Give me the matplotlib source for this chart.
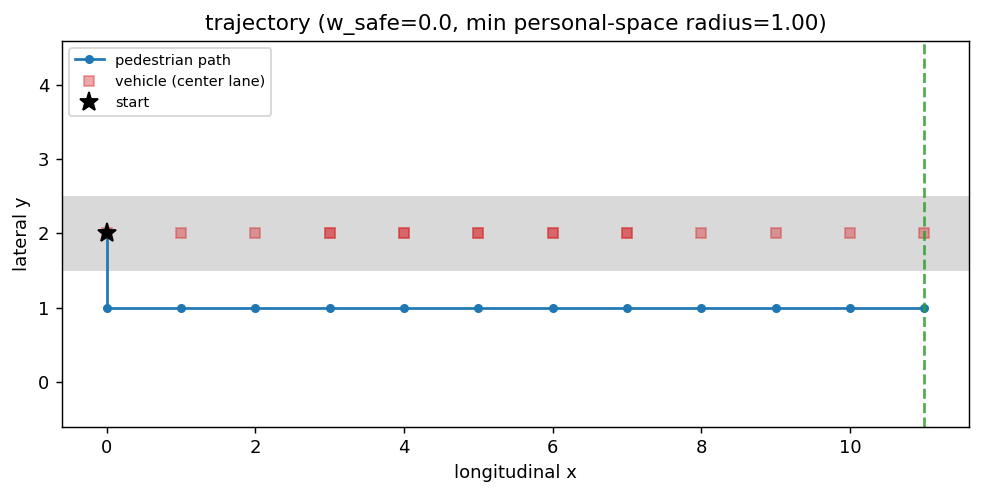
import matplotlib
matplotlib.use('Agg')
import matplotlib.pyplot as plt

# pedestrian path (x, y)
ped_x = [0, 0, 1, 2, 3, 4, 5, 6, 7, 8, 9, 10, 11]
ped_y = [2, 1, 1, 1, 1, 1, 1, 1, 1, 1, 1, 1, 1]

# vehicle positions in the center lane (some steps repeat)
veh_x = [0, 1, 2, 3, 3, 4, 4, 5, 5, 6, 6, 7, 7, 8, 9, 10, 11]
veh_y = [2] * len(veh_x)

start = (0, 2)
goal_x = 11
lane_lo, lane_hi = 1.5, 2.5

W, H, DPI = 982, 495, 130
fig = plt.figure(figsize=(W / DPI, H / DPI), dpi=DPI)
ax = fig.add_axes([62 / W, 1 - 426.5 / H, (969 - 62) / W, (426.5 - 40.5) / H])

ax.axhspan(lane_lo, lane_hi, color='0.85', zorder=0, lw=0)
ax.plot(ped_x, ped_y, '-o', color='tab:blue', ms=4, lw=1.5, label='pedestrian path')
ax.plot(veh_x, veh_y, 's', color='tab:red', alpha=0.4, ms=6, ls='none',
        label='vehicle (center lane)')
ax.plot(*start, '*', color='black', ms=11, ls='none', label='start')
ax.axvline(goal_x, color='tab:green', ls='--', lw=1.5, alpha=0.85)

ax.set_xlim(-0.6, 11.6)
ax.set_ylim(-0.6, 4.6)
ax.set_xlabel('longitudinal x')
ax.set_ylabel('lateral y')
ax.set_title('trajectory (w_safe=0.0, min personal-space radius=1.00)')
ax.legend(loc='upper left', fontsize=8)

fig.savefig('out.png', dpi=DPI)
